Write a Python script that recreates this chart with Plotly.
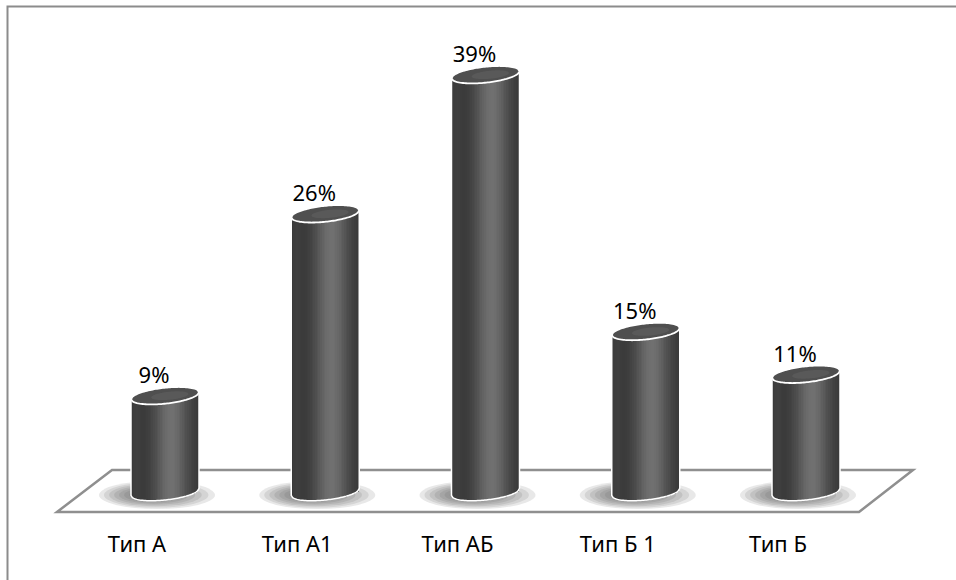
import numpy as np
import plotly.graph_objects as go

# Distribution by type (percent)
categories = ["Тип А", "Тип А1", "Тип АБ", "Тип Б 1", "Тип Б"]
values = [9, 26, 39, 15, 11]
value_labels = ["9%", "26%", "39%", "15%", "11%"]

W, H = 956, 580
PX = 160.25          # pixels per category step
PY = 10.7            # pixels per percent
X0_PX, Y0_PX = 165, 492

x_range = [-X0_PX / PX, (W - X0_PX) / PX]
y_range = [(Y0_PX - H) / PY, Y0_PX / PY]

xs = np.arange(len(categories), dtype=float)
vals = np.array(values, dtype=float)

BAR_W = 68 / PX      # cylinder diameter in x units
A = BAR_W / 2        # ellipse semi-axis (x)
EH = 8 / PY          # ellipse semi-axis (y)
TILT = 3.5 / PY      # perspective tilt of the ellipses

N_STRIPS = 40
FONT = "Noto Sans, Open Sans, sans-serif"


def shade(u):
    """Grey level across the cylinder, u in [-1, 1] from left to right."""
    g = 54 + 58 * np.exp(-((u - 0.18) / 0.5) ** 2) + 8 * np.exp(-((u + 0.85) / 0.15) ** 2)
    return int(round(g))


fig = go.Figure()

# Cylinder bodies: narrow overlaid bar strips give the round shading
d = BAR_W / N_STRIPS
for k in range(N_STRIPS):
    left = -A + k * d
    right = min(left + 1.6 * d, A)
    uc = (left + d / 2) / A
    uc = max(min(uc, 0.999), -0.999)
    base = TILT * uc - EH * np.sqrt(1 - uc ** 2)
    top = vals + TILT * uc
    g = shade(uc)
    fig.add_trace(go.Bar(
        x=xs, y=top - base, base=[base] * len(xs),
        offset=left, width=right - left,
        marker=dict(color=f"rgb({g},{g},{g})", line=dict(width=0)),
        hoverinfo="skip", showlegend=False,
    ))

# Value labels above each cylinder
fig.add_trace(go.Scatter(
    x=xs - 11 / PX, y=vals + 18 / PY, mode="text", text=value_labels,
    textfont=dict(family=FONT, size=22, color="#000000"),
    hoverinfo="skip", showlegend=False, cliponaxis=False,
))

# Category labels in front of the floor
fig.add_trace(go.Scatter(
    x=xs - 28 / PX, y=[(Y0_PX - 546) / PY] * len(xs), mode="text", text=categories,
    textfont=dict(family=FONT, size=22, color="#000000"),
    hoverinfo="skip", showlegend=False, cliponaxis=False,
))

shapes = []

# Chart frame
shapes.append(dict(type="rect", xref="paper", yref="paper",
                   x0=7.5 / W, x1=1.05, y0=-0.05, y1=1 - 6.5 / H,
                   line=dict(color="#8c8c8c", width=2), fillcolor="rgba(0,0,0,0)", layer="below"))

# Floor parallelogram
def ppt(px, py):
    return f"{px / W:.5f},{1 - py / H:.5f}"

floor_path = "M " + " L ".join([ppt(57, 512), ppt(112, 470), ppt(913, 470), ppt(859, 512)]) + " Z"
shapes.append(dict(type="path", xref="paper", yref="paper", path=floor_path,
                   line=dict(color="#8f8f8f", width=2.5), fillcolor="rgba(0,0,0,0)", layer="below"))

# Soft shadows on the floor
for cx in xs:
    scx = cx - 8 / PX
    scy = -3 / PY
    for j, f in enumerate(np.linspace(1.0, 0.3, 8)):
        rx = 58 / PX * f
        ry = 14 / PY * f
        shapes.append(dict(type="circle", xref="x", yref="y",
                           x0=scx - rx - 8 / PX * (1 - f), x1=scx + rx - 8 / PX * (1 - f),
                           y0=scy - ry, y1=scy + ry,
                           line=dict(width=0), fillcolor="rgba(80,80,80,0.13)", layer="below"))


def ellipse_pts(cx, cy, n=48):
    u = np.linspace(-1, 1, n)
    up = [(cx + A * t, cy + TILT * t + EH * np.sqrt(max(0.0, 1 - t * t))) for t in u]
    dn = [(cx + A * t, cy + TILT * t - EH * np.sqrt(max(0.0, 1 - t * t))) for t in u[::-1]]
    return up, dn


def to_path(pts, close=True):
    s = "M " + " L ".join(f"{x:.5f},{y:.5f}" for x, y in pts)
    return s + (" Z" if close else "")


for cx, v in zip(xs, vals):
    # outline of the body: left side, bottom arc, right side
    _, bot_dn = ellipse_pts(cx, 0.0)
    bottom_arc = bot_dn[::-1]  # left to right along the lower half
    outline = [(cx - A, v - TILT)] + bottom_arc + [(cx + A, v + TILT)]
    shapes.append(dict(type="path", xref="x", yref="y", path=to_path(outline, close=False),
                       line=dict(color="#ffffff", width=1.5), fillcolor="rgba(0,0,0,0)"))
    # top cap
    up, dn = ellipse_pts(cx, v)
    shapes.append(dict(type="path", xref="x", yref="y", path=to_path(up + dn),
                       line=dict(color="#ffffff", width=1.8), fillcolor="#4f4f4f"))
    # faint highlight on the cap
    inner = [(cx + (x - cx) * 0.55 + 0.03, v + (y - v) * 0.5) for x, y in up + dn]
    shapes.append(dict(type="path", xref="x", yref="y", path=to_path(inner),
                       line=dict(width=0), fillcolor="rgba(110,110,110,0.35)"))

fig.update_layout(
    width=W, height=H,
    margin=dict(l=0, r=0, t=0, b=0),
    paper_bgcolor="#ffffff", plot_bgcolor="#ffffff",
    barmode="overlay", bargap=0,
    showlegend=False,
    xaxis=dict(range=x_range, visible=False, fixedrange=True),
    yaxis=dict(range=y_range, visible=False, fixedrange=True),
    shapes=shapes,
)

fig.write_html("out.html")
